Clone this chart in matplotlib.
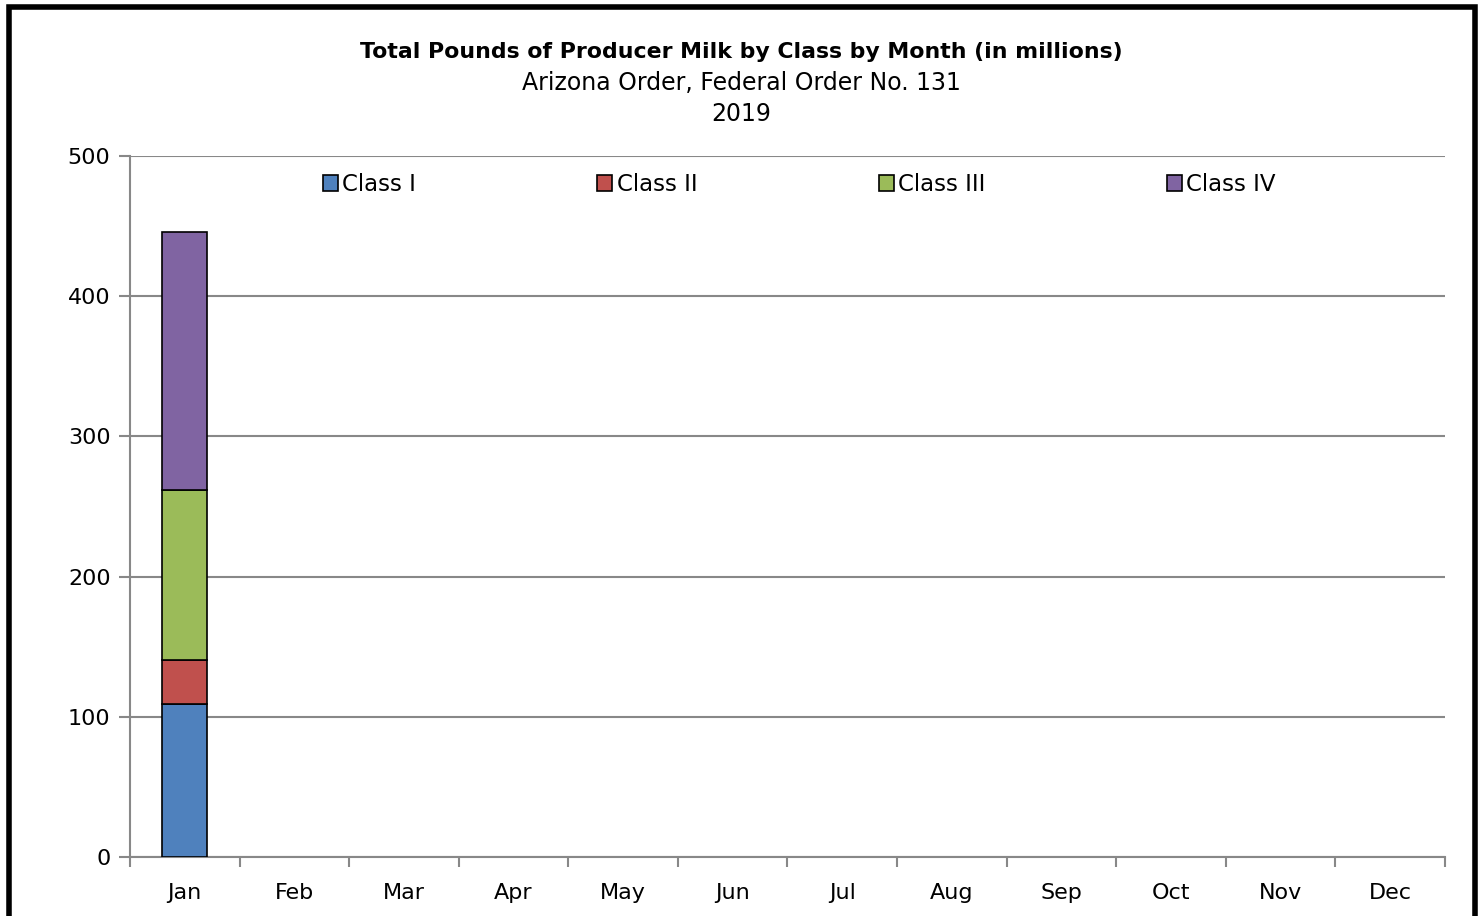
import matplotlib.pyplot as plt
import numpy as np
from matplotlib.patches import Rectangle

months = ['Jan', 'Feb', 'Mar', 'Apr', 'May', 'Jun',
          'Jul', 'Aug', 'Sep', 'Oct', 'Nov', 'Dec']
# only January reported so far
class_1 = [109.0]
class_2 = [31.5]
class_3 = [121.3]
class_4 = [184.0]
series = [('Class I', class_1, '#4f81bd'),
          ('Class II', class_2, '#c0504d'),
          ('Class III', class_3, '#9bbb59'),
          ('Class IV', class_4, '#8064a2')]

plt.rcParams['font.family'] = ['DejaVu Sans']

fig = plt.figure(figsize=(14.84, 9.16), dpi=100)
ax = fig.add_axes([130 / 1484, 59 / 916, 1315 / 1484, 701 / 916])

x = np.arange(len(class_1))
bottom = np.zeros(len(class_1))
for name, vals, color in series:
    ax.bar(x, vals, width=0.41, bottom=bottom, color=color,
           edgecolor='black', linewidth=1.2, label=name, zorder=3)
    bottom += np.array(vals)

ax.set_xlim(-0.5, len(months) - 0.5)
ax.set_ylim(0, 500)
ax.set_yticks(np.arange(0, 501, 100))
ax.set_xticks(np.arange(len(months)))
ax.set_xticklabels(months)
ax.set_xticks(np.arange(len(months) + 1) - 0.5, minor=True)
ax.tick_params(axis='x', which='major', length=0, pad=19, labelsize=16)
ax.tick_params(axis='x', which='minor', length=7, color='#888888', width=1.5)
ax.tick_params(axis='y', length=8, color='#888888', width=1.5, pad=6, labelsize=16)
ax.grid(axis='y', color='#888888', linewidth=1.5, zorder=0)
for side in ['top', 'right']:
    ax.spines[side].set_visible(False)
for side in ['left', 'bottom']:
    ax.spines[side].set_color('#888888')
    ax.spines[side].set_linewidth(1.5)

ax.legend(loc='upper left', bbox_to_anchor=(0.1335, 1.0, 0.751, 0.0), mode='expand',
          ncol=4, frameon=False, fontsize=16.5, handlelength=0.65,
          handleheight=0.65, handletextpad=0.2, borderaxespad=0.35)

fig.text(0.4993, 1 - 52 / 916, 'Total Pounds of Producer Milk by Class by Month (in millions)',
         ha='center', va='center', fontsize=15.8, fontweight='bold')
fig.text(0.4993, 1 - 83 / 916, 'Arizona Order, Federal Order No. 131',
         ha='center', va='center', fontsize=17)
fig.text(0.4993, 1 - 114 / 916, '2019', ha='center', va='center', fontsize=17)

fig.patches.append(Rectangle((8.5 / 1484, -0.1), 1466 / 1484, 1.1 - 7 / 916,
                             transform=fig.transFigure, fill=False,
                             edgecolor='black', linewidth=4, clip_on=False))

fig.savefig('out.png', dpi=100)
